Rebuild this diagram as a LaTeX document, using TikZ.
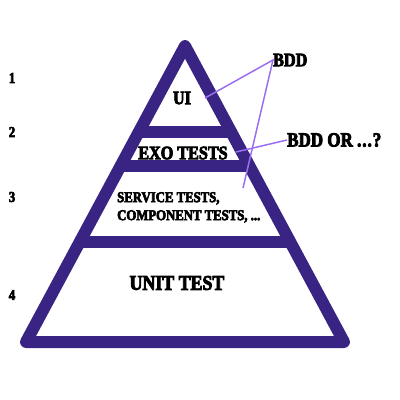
\documentclass[tikz,border=0pt]{standalone}
\usepackage{fontspec}
\newfontfamily\heavy{Liberation Serif}[BoldFeatures={FakeStretch=0.85,FakeBold=4}]
\definecolor{pyr}{HTML}{3A2483}
\definecolor{callout}{HTML}{9A70F0}
\tikzset{
  pyrline/.style={draw=pyr, line width=12pt, line join=round, line cap=round},
  calloutline/.style={draw=callout, line width=1.5pt},
  lbl/.style={inner sep=0pt, font=\heavy\bfseries},
  numlbl/.style={inner sep=0pt, font=\heavy\bfseries\fontsize{15}{15}\selectfont},
}
\begin{document}
\begin{tikzpicture}[x=1pt,y=-1pt]
\useasboundingbox (0,0) rectangle (400,400);
% pyramid
\coordinate (apex) at (185,46);
\coordinate (bl) at (26,342);
\coordinate (br) at (344,342);
\path[pyrline] (apex) -- (bl) -- (br) -- cycle;
\path[pyrline] (139,132) -- (231,132);
\path[pyrline] (121,166) -- (249,166);
\path[pyrline] (80,242) -- (290,242);
% level numbers
\node[numlbl] (n1) at (12,78) {1};
\node[numlbl] (n2) at (12,132) {2};
\node[numlbl] (n3) at (12,197) {3};
\node[numlbl] (n4) at (12,295) {4};
% layer texts
\node[lbl, font=\heavy\bfseries\fontsize{19}{19}\selectfont] (ui) at (182,98) {UI};
\node[lbl, font=\heavy\bfseries\fontsize{19}{19}\selectfont] (exo) at (183,153) {EXO TESTS};
\node[lbl, font=\heavy\bfseries\fontsize{15}{18}\selectfont, align=left, anchor=north west] (svc) at (117,192) {SERVICE TESTS,\\COMPONENT TESTS, ...};
\node[lbl, font=\heavy\bfseries\fontsize{21}{21}\selectfont] (unit) at (177,283) {UNIT TEST};
% callouts
\node[lbl, font=\heavy\bfseries\fontsize{19}{19}\selectfont, anchor=west] (bdd) at (273,60) {BDD};
\node[lbl, font=\heavy\bfseries\fontsize{20}{20}\selectfont, anchor=west] (bddor) at (287,140) {BDD OR .\kern1pt.\kern1pt.\kern1pt?};
\coordinate (uiend) at (205,98);
\coordinate (svcend) at (243,188);
\coordinate (exoend) at (236,152);
\draw[calloutline] (uiend) -- (bdd.west) -- (svcend);
\draw[calloutline] (exoend) -- (bddor.west);
\end{tikzpicture}
\end{document}
